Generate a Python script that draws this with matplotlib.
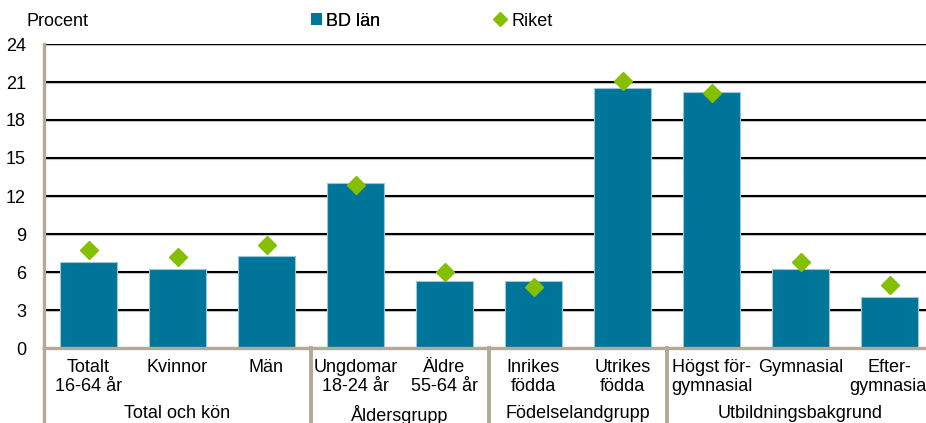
import matplotlib
matplotlib.use("Agg")
import matplotlib.pyplot as plt
from matplotlib.lines import Line2D
from matplotlib.patches import Patch
import matplotlib.transforms as mtransforms

categories = ["Totalt\n16-64 år", "Kvinnor", "Män", "Ungdomar\n18-24 år", "Äldre\n55-64 år",
              "Inrikes\nfödda", "Utrikes\nfödda", "Högst för-\ngymnasial", "Gymnasial", "Efter-\ngymnasial"]
bd_lan = [6.8, 6.2, 7.3, 13.0, 5.3, 5.3, 20.5, 20.2, 6.2, 4.0]
riket = [7.7, 7.2, 8.1, 12.9, 6.0, 4.8, 21.1, 20.1, 6.8, 5.0]
groups = ["Total och kön", "Åldersgrupp", "Födelselandgrupp", "Utbildningsbakgrund"]
group_sizes = [3, 2, 2, 3]
yticks = [0, 3, 6, 9, 12, 15, 18, 21, 24]

plt.rcParams['font.family'] = ['Liberation Sans', 'DejaVu Sans']
FS = 13
BAR = "#00759A"
DIA = "#84C000"
TAN = "#B3A999"

W, H = 926, 423
fig = plt.figure(figsize=(W / 100, H / 100), dpi=100)
x0, x1 = 44, 934
y0, y1 = 348, 44
ax = fig.add_axes([x0 / W, (H - y0) / H, (x1 - x0) / W, (y0 - y1) / H])

xs = list(range(len(categories)))
ax.bar(xs, bd_lan, width=0.63, color=BAR, edgecolor="#9CC6D6", linewidth=0.8, zorder=3)
ax.plot(xs, riket, linestyle="none", marker="D", markersize=9, color=DIA, zorder=4)

ax.set_xlim(-0.5, len(categories) - 0.5)
ax.set_ylim(0, 24)
ax.set_yticks(yticks)
ax.set_yticklabels([str(v) for v in yticks], fontsize=FS)
ax.set_xticks(xs)
ax.set_xticklabels(categories, fontsize=FS, linespacing=1.15)
ax.tick_params(axis="both", length=0)
ax.tick_params(axis="y", pad=13)
ax.tick_params(axis="x", pad=8)

for s in ["top", "right"]:
    ax.spines[s].set_visible(False)
for s in ["left", "bottom"]:
    ax.spines[s].set_color(TAN)
    ax.spines[s].set_linewidth(2.4)
    ax.spines[s].set_zorder(5)

for v in yticks[1:]:
    ax.axhline(v, color="black", linewidth=1.5, zorder=1)
    ax.axhline(v - 0.09, color="#C8C8C8", linewidth=0.8, zorder=0.9)

trans = mtransforms.blended_transform_factory(ax.transData, ax.transAxes)
ybot = -(H - y0 + 5) / (y0 - y1)
ax.plot([-0.5, -0.5], [0, ybot], color=TAN, linewidth=2.4, transform=trans, clip_on=False, zorder=5)

start = 0
for g, n in zip(groups, group_sizes):
    center = start + (n - 1) / 2
    ax.text(center, -(405 - y0) / (y0 - y1), g, ha="center", va="top", fontsize=FS, transform=trans)
    end = start + n
    if end < len(categories):
        ax.plot([end - 0.5, end - 0.5], [0, ybot], color=TAN, linewidth=2.8,
                transform=trans, clip_on=False, zorder=5)
    start = end

fig.text(27 / W, 1 - 22 / H, "Procent", fontsize=FS, ha="left", va="center")

h1 = Patch(facecolor=BAR, edgecolor="none")
h2 = Line2D([], [], linestyle="none", marker="D", markersize=7, color=DIA)
leg1 = fig.legend([h1], ["BD län"], loc="center left", bbox_to_anchor=(311 / W, 1 - 21 / H),
                  frameon=False, fontsize=FS, handlelength=0.6, handleheight=0.6,
                  handletextpad=0.25, borderpad=0, borderaxespad=0)
leg2 = fig.legend([h2], ["Riket"], loc="center left", bbox_to_anchor=(493 / W, 1 - 21 / H),
                  frameon=False, fontsize=FS, handlelength=0.8,
                  handletextpad=0.2, borderpad=0, borderaxespad=0)
fig.add_artist(leg1)

fig.savefig("out.png", dpi=100)
